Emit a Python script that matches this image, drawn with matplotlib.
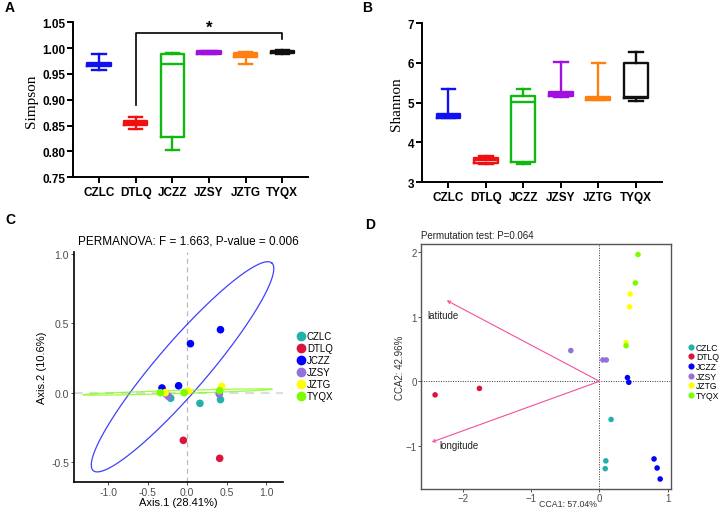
import numpy as np
import matplotlib
matplotlib.use('Agg')
import matplotlib.pyplot as plt
from matplotlib.lines import Line2D

plt.rcParams['font.family'] = ['Liberation Sans', 'DejaVu Sans']

groups = ['CZLC', 'DTLQ', 'JCZZ', 'JZSY', 'JZTG', 'TYQX']
box_colors = ['#1010F0', '#F01010', '#10B810', '#A010E0', '#FF8010', '#101010']

# Simpson box stats: whislo, q1, med, q3, whishi
simpson_lo = [0.958, 0.843, 0.803, 0.988, 0.970, 0.989]
simpson_q1 = [0.965, 0.851, 0.828, 0.989, 0.983, 0.990]
simpson_med = [0.969, 0.855, 0.970, 0.991, 0.987, 0.993]
simpson_q3 = [0.972, 0.859, 0.989, 0.994, 0.990, 0.995]
simpson_hi = [0.989, 0.866, 0.991, 0.995, 0.993, 0.997]

# Shannon box stats
shannon_lo = [4.62, 3.45, 3.46, 5.15, 5.06, 5.05]
shannon_q1 = [4.62, 3.49, 3.50, 5.17, 5.06, 5.12]
shannon_med = [4.66, 3.55, 5.01, 5.22, 5.10, 5.14]
shannon_q3 = [4.71, 3.62, 5.17, 5.27, 5.15, 6.00]
shannon_hi = [5.34, 3.66, 5.34, 6.01, 5.99, 6.26]

# PCoA points (Axis.1, Axis.2)
pcoa_colors = ['#20B2AA', '#DC143C', '#0000FF', '#9370DB', '#FFFF00', '#7CFC00']
pcoa_x = {
    'CZLC': [-0.21, 0.16, 0.42],
    'DTLQ': [-0.05, 0.41],
    'JCZZ': [-0.32, -0.11, 0.04, 0.42],
    'JZSY': [-0.27, -0.24, 0.405],
    'JZTG': [-0.28, 0.013, 0.435],
    'TYQX': [-0.34, -0.04, 0.41],
}
pcoa_y = {
    'CZLC': [-0.04, -0.077, -0.05],
    'DTLQ': [-0.344, -0.474],
    'JCZZ': [0.034, 0.05, 0.354, 0.455],
    'JZSY': [-0.01, -0.026, -0.01],
    'JZTG': [0.0, 0.012, 0.046],
    'TYQX': [0.0, 0.0, 0.015],
}
# ellipses: center, half-major vector, half-minor vector
ell_groups = ['JCZZ', 'TYQX']
ell_center = [(-0.06, 0.187), (-0.125, 0.005)]
ell_u = [(1.13, 0.75), (1.195, 0.02)]
ell_v = [(-0.24, 0.118), (0.0, 0.011)]

# CCA sites
cca_x = {
    'CZLC': [0.17, 0.093, 0.084],
    'DTLQ': [-2.41, -1.76],
    'JCZZ': [0.41, 0.43, 0.80, 0.845, 0.89],
    'JZSY': [-0.42, 0.05, 0.10],
    'JZTG': [0.45, 0.44, 0.39],
    'TYQX': [0.565, 0.526, 0.39],
}
cca_y = {
    'CZLC': [-0.59, -1.23, -1.35],
    'DTLQ': [-0.21, -0.11],
    'JCZZ': [0.057, -0.015, -1.20, -1.34, -1.51],
    'JZSY': [0.475, 0.33, 0.33],
    'JZTG': [1.35, 1.15, 0.60],
    'TYQX': [1.96, 1.52, 0.55],
}
env_names = ['latitude', 'longitude']
env_x = [-2.24, -2.46]
env_y = [1.25, -0.94]
env_label_x = [-2.29, -2.06]
env_label_y = [1.03, -0.98]

fig = plt.figure(figsize=(7.19, 5.1), dpi=100)


def box_panel(ax, lo, q1, med, q3, hi, ylim, yticks, ylabel, fmt):
    for i in range(len(groups)):
        s = dict(whislo=lo[i], q1=q1[i], med=med[i], q3=q3[i], whishi=hi[i])
        c = box_colors[i]
        ax.bxp([s], positions=[i], widths=0.64, capwidths=0.36, showfliers=False,
               boxprops=dict(color=c, lw=1.7),
               whiskerprops=dict(color=c, lw=1.7),
               capprops=dict(color=c, lw=1.7),
               medianprops=dict(color=c, lw=1.7))
    ax.set_xlim(-0.7, 5.7)
    ax.set_ylim(*ylim)
    ax.set_yticks(yticks)
    ax.set_yticklabels([fmt.format(t) for t in yticks], fontweight='bold', fontsize=8.5)
    ax.set_xticks(range(len(groups)))
    ax.set_xticklabels(groups, fontweight='bold', fontsize=8.5)
    for sp in ['top', 'right']:
        ax.spines[sp].set_visible(False)
    for sp in ['left', 'bottom']:
        ax.spines[sp].set_linewidth(1.4)
    ax.tick_params(width=1.4, length=4, pad=2)
    ax.set_ylabel(ylabel, family='Liberation Serif', fontsize=11, labelpad=3)


# A: Simpson
axA = fig.add_axes([0.102, 0.6504, 0.3264, 0.3039])
box_panel(axA, simpson_lo, simpson_q1, simpson_med, simpson_q3, simpson_hi,
          (0.75, 1.05), [0.75, 0.80, 0.85, 0.90, 0.95, 1.00, 1.05], 'Simpson', '{:.2f}')
axA.plot([1, 1, 5, 5], [0.889, 1.029, 1.029, 1.017], color='black', lw=1.2, clip_on=False)
axA.text(3, 1.041, '*', ha='center', va='center', fontsize=12, fontweight='bold')

# B: Shannon
axB = fig.add_axes([0.5873, 0.6406, 0.3334, 0.3123])
box_panel(axB, shannon_lo, shannon_q1, shannon_med, shannon_q3, shannon_hi,
          (3, 7), [3, 4, 5, 6, 7], 'Shannon', '{:d}')

# C: PCoA
axC = fig.add_axes([0.1029, 0.0535, 0.2911, 0.4498])
axC.axvline(0, color='#BBBBBB', lw=0.9, ls=(0, (4, 3)), zorder=0)
axC.axhline(0, color='#DDDDDD', lw=1.6, ls=(0, (4, 3)), zorder=0)
t = np.linspace(0, 2 * np.pi, 200)
for k, g in enumerate(ell_groups):
    cx, cy = ell_center[k]
    ux, uy = ell_u[k]
    vx, vy = ell_v[k]
    col = pcoa_colors[groups.index(g)]
    axC.plot(cx + ux * np.cos(t) + vx * np.sin(t), cy + uy * np.cos(t) + vy * np.sin(t),
             color=col, lw=0.9, alpha=0.75, zorder=1)
for i, g in enumerate(groups):
    axC.scatter(pcoa_x[g], pcoa_y[g], s=30, color=pcoa_colors[i], edgecolors='none', zorder=3)
axC.set_xlim(-1.434, 1.215)
axC.set_ylim(-0.643, 1.014)
axC.set_xticks([-1.0, -0.5, 0.0, 0.5, 1.0])
axC.set_yticks([-0.5, 0.0, 0.5, 1.0])
axC.set_xticklabels(['-1.0', '-0.5', '0.0', '0.5', '1.0'])
axC.set_yticklabels(['-0.5', '0.0', '0.5', '1.0'])
axC.tick_params(labelsize=7.5, labelcolor='#4D4D4D', color='#333333', length=2, width=0.6, pad=1.5)
for sp in ['top', 'right']:
    axC.spines[sp].set_visible(False)
for sp in ['left', 'bottom']:
    axC.spines[sp].set_linewidth(1.2)
axC.set_xlabel('Axis.1 (28.41%)', fontsize=8, labelpad=0)
axC.set_ylabel('Axis.2 (10.6%)', fontsize=8, labelpad=3)
fig.text(0.2624, 0.5255, 'PERMANOVA: F = 1.663, P-value = 0.006', ha='center', va='center', fontsize=8.5)
handlesC = [Line2D([], [], ls='none', marker='o', ms=6, color=c) for c in pcoa_colors]
fig.legend(handlesC, groups, loc='center left', bbox_to_anchor=(0.412, 0.280), frameon=False,
           fontsize=7, handlelength=0.9, handletextpad=0.2, labelspacing=0.2,
           borderpad=0, borderaxespad=0)

# D: CCA
axD = fig.add_axes([0.5855, 0.0392, 0.3473, 0.4804])
axD.axvline(0, color='#333333', lw=0.7, ls=(0, (1, 1.5)), zorder=0)
axD.axhline(0, color='#333333', lw=0.7, ls=(0, (1, 1.5)), zorder=0)
for k, name in enumerate(env_names):
    axD.annotate('', xy=(env_x[k], env_y[k]), xytext=(0, 0),
                 arrowprops=dict(arrowstyle='->', color='#F4509C', lw=0.8,
                                 mutation_scale=5, shrinkA=0, shrinkB=0))
    axD.text(env_label_x[k], env_label_y[k], name, fontsize=7, ha='center', va='center', color='#222222')
for i, g in enumerate(groups):
    axD.scatter(cca_x[g], cca_y[g], s=16, color=pcoa_colors[i], edgecolors='none', zorder=3)
axD.set_xlim(-2.617, 1.044)
axD.set_ylim(-1.665, 2.122)
axD.set_xticks([-2, -1, 0, 1])
axD.set_yticks([-1, 0, 1, 2])
axD.tick_params(labelsize=7, labelcolor='#4D4D4D', color='#333333', length=2, width=0.6, pad=1.0)
for sp in axD.spines.values():
    sp.set_color('#555555')
    sp.set_linewidth(1.0)
fig.text(0.79, 0.002, 'CCA1: 57.04%', fontsize=6.3, ha='center', va='bottom', color='#333333')
axD.set_ylabel('CCA2: 42.96%', fontsize=7, labelpad=0.5, color='#333333')
fig.text(0.5855, 0.537, 'Permutation test: P=0.064', ha='left', va='center', fontsize=7, color='#222222')
handlesD = [Line2D([], [], ls='none', marker='o', ms=3.4, color=c) for c in pcoa_colors]
fig.legend(handlesD, groups, loc='center left', bbox_to_anchor=(0.9566, 0.2698), frameon=False,
           fontsize=6.2, handlelength=0.7, handletextpad=0.25, labelspacing=0.08,
           borderpad=0, borderaxespad=0)

# panel letters
fig.text(0.007, 0.984, 'A', fontsize=10, fontweight='bold', va='center')
fig.text(0.503, 0.984, 'B', fontsize=10, fontweight='bold', va='center')
fig.text(0.007, 0.569, 'C', fontsize=10, fontweight='bold', va='center')
fig.text(0.508, 0.559, 'D', fontsize=10, fontweight='bold', va='center')

fig.savefig('out.png', dpi=100)
